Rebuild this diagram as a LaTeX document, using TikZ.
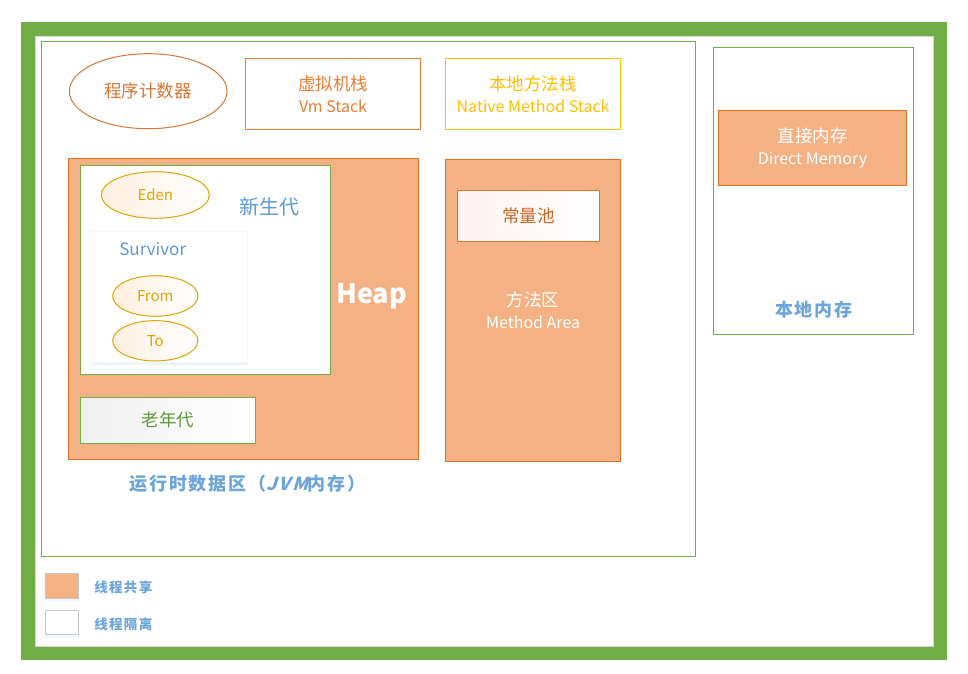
\documentclass[tikz,border=0pt]{standalone}
\usepackage{fontspec}
\setmainfont{Noto Sans CJK SC}
\newfontfamily\brushfont[LetterSpace=10]{Noto Sans CJK SC}
\newfontfamily\brushslant[FakeSlant=0.3,LetterSpace=10]{Noto Sans CJK SC}
\usepackage{tikz}
\usetikzlibrary{%
   shapes.geometric,%
   shadows}
\definecolor{frameG}{HTML}{70AD47}
\definecolor{shareF}{HTML}{F4B183}
\definecolor{shareL}{HTML}{E07028}
\definecolor{pcC}{HTML}{D87634}
\definecolor{vmC}{HTML}{ED7D31}
\definecolor{goldC}{HTML}{FFC000}
\definecolor{edenC}{HTML}{DDA500}
\definecolor{blueC}{HTML}{5B9BD5}
\definecolor{oldC}{HTML}{5E9A3C}
\definecolor{legL}{HTML}{C8C8C8}
\begin{document}
\begin{tikzpicture}
[x=1pt, y=-1pt,
 zh/.style={font=\fontsize{17.5}{22}\selectfont, align=center},
 typeS/.style={rectangle,draw=shareL,fill=shareF,line width=1pt,inner sep=0pt,text=white,zh}, % thread shared
 typeI/.style={rectangle,draw,fill=white,line width=1pt,inner sep=0pt,zh},                    % thread isolated
 typeE/.style={ellipse,draw=edenC,line width=1pt,inner sep=0pt,text=edenC,
               left color=orange!12,right color=white,font=\fontsize{15}{18}\selectfont},
 area/.style={rectangle,draw=frameG,line width=1pt,inner sep=0pt},
 tag/.style={text=blueC!90,font=\fontsize{18}{20}\selectfont\brushfont\bfseries},
 legbox/.style={rectangle,draw=legL,line width=1pt,inner sep=0pt,minimum width=33.4,minimum height=24.5,
                drop shadow={shadow xshift=0pt,shadow yshift=-3pt,opacity=.2,fill=blueC!40}}]
\useasboundingbox (0,0) rectangle (968,673);
% frame
\draw[frameG, line width=14] (28,29.3) rectangle (940,653);
\draw[legL!70, line width=0.8] (35,36.3) rectangle (933,646);
% jvm part
\node[area, minimum width=653.5, minimum height=515.3] (jvm) at (368.3,299.3) {};
\node[typeI, ellipse, draw=pcC, text=pcC, minimum width=157.7, minimum height=75] (pc) at (148.2,91.2) {程序计数器};
\node[typeI, draw=vmC, text=vmC, minimum width=175.4, minimum height=71] (vms) at (333,93.8)
     {虚拟机栈\\{\fontsize{16}{22}\selectfont Vm Stack}};
\node[typeI, draw=goldC, text=goldC, minimum width=175.4, minimum height=71] (nms) at (533.1,93.8)
     {本地方法栈\\{\fontsize{16}{22}\selectfont Native Method Stack}};
% heap
\node[typeS, minimum width=350.4, minimum height=301] (heap) at (243.5,308.8) {};
\node[text=white, font=\fontsize{27}{30}\selectfont\bfseries] (heapL) at (371.7,296.7) {Heap};
\node[typeI, draw=frameG, minimum width=249.8, minimum height=208.7] (young) at (205.4,269.7) {};
\node[text=blueC, font=\fontsize{20}{24}\selectfont] (youngL) at (269,206.7) {新生代};
\node[typeE, minimum width=108, minimum height=46.6] (eden) at (155.3,195) {Eden};
\node[typeI, draw=blueC!10, minimum width=157.8, minimum height=131,
      drop shadow={shadow xshift=1pt,shadow yshift=-3pt,opacity=.25,fill=blueC!40}] (surv) at (168.4,296.8) {};
\node[text=blueC, font=\fontsize{17}{20}\selectfont] (survL) at (152.7,249) {Survivor};
\node[typeE, minimum width=85.3, minimum height=40.6] (from) at (155.3,296) {From};
\node[typeE, minimum width=85.3, minimum height=40.3] (to) at (155.3,340.8) {To};
\node[typeI, draw=frameG, text=oldC, left color=green!6!gray!12, right color=white,
      minimum width=175, minimum height=46] (old) at (168.2,420.3) {老年代};
\node[tag] (jvmL) at (247.5,483.3) {运行时数据区（{\brushslant\bfseries JVM}内存）};
% method area
\node[typeS, minimum width=175.4, minimum height=302] (meth) at (533.1,310.3)
     {方法区\\{\fontsize{16}{22}\selectfont Method Area}};
\node[typeI, draw=shareL, text=shareL!90!black, left color=red!5, right color=white,
      minimum width=142, minimum height=50.6] (pool) at (528.5,216) {常量池};
% native memory
\node[area, minimum width=200.4, minimum height=286.7] (natm) at (813.6,190.7) {};
\node[typeS, minimum width=188.4, minimum height=75] (direct) at (812.5,147.8)
     {直接内存\\{\fontsize{16}{22}\selectfont Direct Memory}};
\node[tag] (natmL) at (813.7,310) {本地内存};
% legend
\node[legbox, fill=shareF] (legS) at (62,585.8) {};
\node[legbox, fill=white]  (legI) at (62,622.3) {};
\node[tag, font=\fontsize{13.5}{16}\selectfont\brushfont\bfseries] (legSL) at (123.3,587.7) {线程共享};
\node[tag, font=\fontsize{13.5}{16}\selectfont\brushfont\bfseries] (legIL) at (123.3,624.3) {线程隔离};
\end{tikzpicture}
\end{document}
